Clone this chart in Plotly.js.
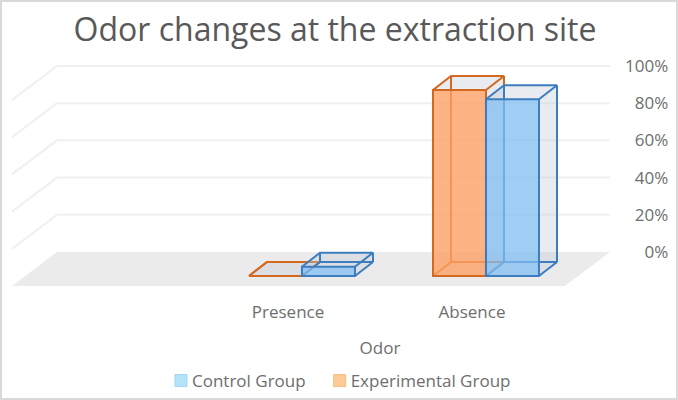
<!DOCTYPE html>
<html><head><meta charset="utf-8">
<script src="https://cdn.plot.ly/plotly-3.0.1.min.js"></script>
<style>html,body{margin:0;padding:0;background:#fff}#frame{position:absolute;left:0;top:0;width:678px;height:400px;box-sizing:border-box;border:2px solid #d9d9d9;pointer-events:none}</style>
</head><body><div id="chart" style="width:678px;height:400px"></div><div id="frame"></div>
<script>
const categories = ['Presence', 'Absence'];
const controlValues = [5, 95];
const experimentalValues = [0, 100];
const yTicks = [0, 20, 40, 60, 80, 100];
const yTickLabels = ['\u2007\u20070%', '\u200720%', '\u200740%', '\u200760%', '\u200780%', '100%'];

const BASE = -12.9, DX = 0.098, DY = 7.53, WIDTH = 0.288;
const TITLE_COLOR = '#595959', TEXT = '#6e6e6e';
const idx = categories.map((_, i) => i);

// depth faces and hidden edges sit on one overlaid axis pair, the translucent front bar on the next
function group(name, values, offset, stroke, fill, xa, ya, xb, yb) {
  const sideX = [], sideY = [], edgeX = [], edgeY = [];
  values.forEach((v, i) => {
    const x0 = i + offset, x1 = x0 + WIDTH, y0 = BASE, y1 = BASE + v;
    sideX.push(x1, x1 + DX, x1 + DX, x1, x1, null, x0, x0 + DX, x1 + DX, x1, x0, null);
    sideY.push(y0, y0 + DY, y1 + DY, y1, y0, null, y1, y1 + DY, y1 + DY, y1, y1, null);
    edgeX.push(x0, x0 + DX, x1 + DX, x1, null, x0, x0 + DX, x1 + DX, x1, null, x0 + DX, x0 + DX, null, x1 + DX, x1 + DX, null);
    edgeY.push(y1, y1 + DY, y1 + DY, y1, null, y0, y0 + DY, y0 + DY, y0, null, y0 + DY, y1 + DY, null, y0 + DY, y1 + DY, null);
  });
  return [
    { type: 'scatter', mode: 'lines', x: sideX, y: sideY, fill: 'toself', fillcolor: 'rgba(190,200,212,0.36)',
      line: { width: 0 }, showlegend: false, hoverinfo: 'skip', xaxis: xa, yaxis: ya },
    { type: 'scatter', mode: 'lines', x: edgeX, y: edgeY, line: { color: stroke, width: 2 },
      showlegend: false, hoverinfo: 'skip', xaxis: xa, yaxis: ya },
    { type: 'bar', x: idx, y: values, base: values.map(() => BASE), width: WIDTH, offset: offset,
      marker: { color: fill, line: { color: stroke, width: 2 } }, name: name, showlegend: false,
      hoverinfo: 'y', xaxis: xb, yaxis: yb }
  ];
}

const traces = [
  ...group('Experimental Group', experimentalValues, -0.212, '#d2691e', 'rgba(253,160,100,0.8)', 'x', 'y', 'x2', 'y2'),
  ...group('Control Group', controlValues, 0.076, '#3c7dbf', 'rgba(130,190,240,0.75)', 'x3', 'y3', 'x4', 'y4'),
  { type: 'bar', x: [null], y: [null], name: 'Control Group', legendrank: 1, hoverinfo: 'skip',
    marker: { color: '#b5e3fa', line: { color: '#9fd6f2', width: 1 } } },
  { type: 'bar', x: [null], y: [null], name: 'Experimental Group', legendrank: 2, hoverinfo: 'skip',
    marker: { color: '#fccb97', line: { color: '#f7bd82', width: 1 } } }
];

// Paper x positions of the floor and walls
const backL = -0.2022, backR = 1, frontL = -0.3, frontR = 0.9022, FLOOR_FRONT = -18.3;
const shapes = [{ type: 'path', xref: 'paper', yref: 'y', layer: 'below', line: { width: 0 }, fillcolor: '#ebebeb',
  path: `M${backL},0 L${backR},0 L${frontR},${FLOOR_FRONT} L${frontL},${FLOOR_FRONT} Z` }];
yTicks.filter(t => t > 0).forEach(t => {
  shapes.push({ type: 'line', xref: 'paper', yref: 'y', layer: 'below', x0: backL, x1: backR, y0: t, y1: t,
    line: { color: '#f0f0f0', width: 2 } });
  shapes.push({ type: 'line', xref: 'paper', yref: 'y', layer: 'below', x0: backL, x1: frontL, y0: t, y1: t + FLOOR_FRONT,
    line: { color: '#f0f0f0', width: 2 } });
});

const xRange = [-0.75, 1.75], yRange = [-21.5, 103.2];
const hiddenX = { range: xRange, overlaying: 'x', visible: false };
const hiddenY = { range: yRange, overlaying: 'y', visible: false };
const layout = {
  width: 678, height: 400, autosize: false, paper_bgcolor: '#fff', plot_bgcolor: 'rgba(0,0,0,0)',
  font: { family: '"Open Sans", sans-serif', color: TEXT, size: 17 },
  margin: { l: 150, r: 68, t: 60, b: 108, pad: 0 },
  title: { text: 'Odor changes at the extraction site', x: 335 / 678, xanchor: 'center', y: 0.925, yanchor: 'middle',
    font: { size: 32, color: TITLE_COLOR, family: '"Open Sans", sans-serif' } },
  barmode: 'overlay', shapes: shapes,
  xaxis: { range: xRange, tickvals: idx, ticktext: categories, showgrid: false, zeroline: false, showline: false, ticks: '',
    tickfont: { size: 17 }, ticklabelstandoff: 8, title: { text: 'Odor', standoff: 20, font: { size: 17 } } },
  yaxis: { range: yRange, side: 'right', tickvals: yTicks, ticktext: yTickLabels, showgrid: false, zeroline: false,
    showline: false, ticks: '', tickfont: { size: 17 }, ticklabelstandoff: 14 },
  xaxis2: hiddenX, yaxis2: hiddenY, xaxis3: hiddenX, yaxis3: hiddenY, xaxis4: hiddenX, yaxis4: hiddenY,
  legend: { orientation: 'h', x: 0.4926, xanchor: 'center', xref: 'container', y: 0.0475, yref: 'container', yanchor: 'middle',
    font: { size: 17 }, itemclick: false, itemdoubleclick: false }
};
Plotly.newPlot('chart', traces, layout, { displayModeBar: false, staticPlot: true }).then(gd => {
  // tuck each legend swatch close to its label
  gd.querySelectorAll('.legendsymbols').forEach(s => s.setAttribute('transform', 'translate(9,0)'));
});
</script></body></html>
